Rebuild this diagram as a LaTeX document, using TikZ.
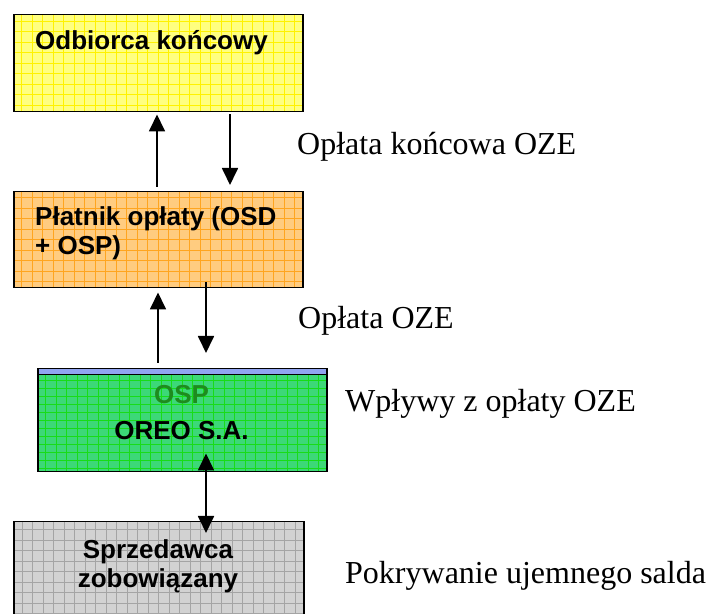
\documentclass[tikz,border=0pt]{standalone}
\usepackage{fontspec}
\setmainfont{Liberation Serif}
\newfontfamily\arialfont{Liberation Sans}
\usetikzlibrary{arrows.meta}

\definecolor{yellowfill}{HTML}{FFFF80}
\definecolor{yellowgrid}{HTML}{FFF200}
\definecolor{orangefill}{HTML}{FFCC80}
\definecolor{orangegrid}{HTML}{FFA520}
\definecolor{greenfill}{HTML}{3CD878}
\definecolor{greengrid}{HTML}{18DC18}
\definecolor{grayfill}{HTML}{D2D2D2}
\definecolor{graygrid}{HTML}{A4A4A4}
\definecolor{stripblue}{HTML}{90A4F0}
\definecolor{ospgreen}{HTML}{1E8C1E}

\begin{document}
\begin{tikzpicture}[
  x=1pt, y=1pt,
  box node/.style={
    draw, line width=1.5pt, rectangle, anchor=north west,
    minimum width=289pt, inner sep=0pt,
  },
  grid fill/.style={
    fill=#1fill,
    path picture={
      \draw[#1grid, line width=0.9pt]
        (path picture bounding box.south west)
        grid[step=10.5pt] (path picture bounding box.north east);
    },
  },
  strip fill/.style={
    fill=greenfill,
    path picture={
      \draw[greengrid, line width=0.8pt]
        (path picture bounding box.south west)
        grid[xstep=10.5pt, ystep=8pt] (path picture bounding box.north east);
      \fill[stripblue] ([yshift=-6pt]path picture bounding box.north west)
        rectangle (path picture bounding box.north east);
      \draw[line width=1.5pt] ([yshift=-6pt]path picture bounding box.north west)
        -- ([yshift=-6pt]path picture bounding box.north east);
    },
  },
  box text/.style={
    font=\arialfont\bfseries\fontsize{26}{29}\selectfont, inner sep=0pt,
  },
  side text/.style={
    font=\fontsize{32}{38}\selectfont, inner sep=0pt, anchor=base west,
  },
  flow arrow/.style={
    line width=1.8pt, -{Triangle[width=16pt,length=17pt]},
  },
  both arrow/.style={
    line width=1.8pt, {Triangle[width=16pt,length=17pt]}-{Triangle[width=16pt,length=17pt]},
  }
  ]
  \clip (0,0) rectangle (709,613);

  % boxes
  \node[box node, grid fill=yellow, minimum height=97pt] (odbiorca) at (13,599) {};
  \node[box node, grid fill=orange, minimum height=96pt] (platnik) at (13,422) {};
  \node[box node, strip fill, minimum height=103pt] (osp) at (37,245) {};
  \node[box node, grid fill=gray, minimum width=290pt, minimum height=100pt] (sprzedawca) at (13,92) {};

  % box texts
  \node[box text, anchor=base west] (odbiorcatxt) at (35,563) {Odbiorca końcowy};
  \node[box text, anchor=north west, align=left] (platniktxt) at (35,407)
    {Płatnik opłaty (OSD\\+ OSP)};
  \node[box text, anchor=base, text=ospgreen] (osptxt) at (181.5,209) {OSP};
  \node[box text, anchor=base] (oreotxt) at (181.5,173) {OREO S.A.};
  \node[box text, anchor=north, align=center] (sprzedawcatxt) at (158,74)
    {Sprzedawca\\zobowiązany};

  % arrows
  \draw[flow arrow] ([shift={(144pt,4pt)}]platnik.north west) -- ([shift={(144pt,-2pt)}]odbiorca.south west);
  \draw[flow arrow] ([shift={(217pt,-2pt)}]odbiorca.south west) -- ([shift={(217pt,6pt)}]platnik.north west);
  \draw[flow arrow] ([shift={(121pt,5pt)}]osp.north west) -- ([shift={(145pt,-4pt)}]platnik.south west);
  \draw[flow arrow] ([shift={(193pt,6pt)}]platnik.south west) -- ([shift={(169pt,15pt)}]osp.north west);
  \draw[both arrow] ([shift={(169pt,19pt)}]osp.south west) -- ([shift={(193pt,-12pt)}]sprzedawca.north west);

  % side labels
  \node[side text] (koncowa) at (297,458) {Opłata końcowa OZE};
  \node[side text] (oplata) at (298,284) {Opłata OZE};
  \node[side text] (wplywy) at (345,201) {Wpływy z opłaty OZE};
  \node[side text] (pokrywanie) at (345,30) {Pokrywanie ujemnego salda};
\end{tikzpicture}
\end{document}
